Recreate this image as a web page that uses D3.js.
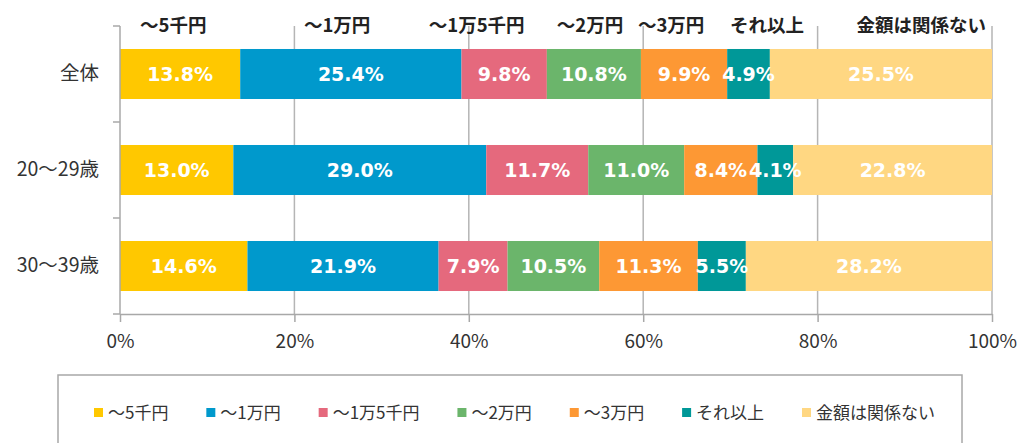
<!DOCTYPE html>
<html>
<head>
<meta charset="utf-8">
<script src="https://cdn.jsdelivr.net/npm/d3@7"></script>
<style>
  body { margin: 0; background: #fff; }
  svg { display: block; }
</style>
</head>
<body>
<div id="chart"></div>
<script>
// 100% stacked bars: budget by age group
var categories = ["全体", "20～29歳", "30～39歳"];
var seriesNames = ["～5千円", "～1万円", "～1万5千円", "～2万円", "～3万円", "それ以上", "金額は関係ない"];
var valuesAll = [13.8, 25.4, 9.8, 10.8, 9.9, 4.9, 25.5];
var values20s = [13.0, 29.0, 11.7, 11.0, 8.4, 4.1, 22.8];
var values30s = [14.6, 21.9, 7.9, 10.5, 11.3, 5.5, 28.2];
// header labels sit above the bars, anchored at these % values
var headerAt = [6.1, 24.9, 40.9, 53.9, 63.2, 74.2, 91.9];
var xTicks = [0, 0.2, 0.4, 0.6, 0.8, 1];
var palette = ["#ffc800", "#0099cc", "#e5697d", "#6bb56b", "#fd9834", "#009898", "#ffd782"];

var width = 1019, height = 443;
var jp = "'Noto Sans CJK JP', 'Noto Sans', sans-serif";

var rows = [valuesAll, values20s, values30s].map(function(v, i) {
  var r = {cat: categories[i]};
  seriesNames.forEach(function(s, j) { r[s] = v[j]; });
  return r;
});

var stack = d3.stack().keys(seriesNames).offset(d3.stackOffsetExpand);
var layers = stack(rows);

var svg = d3.select("#chart").append("svg")
  .attr("width", width)
  .attr("height", height);

var x = d3.scaleLinear().domain([0, 1]).range([120, 992]);
var y = d3.scaleBand().domain(categories).range([26, 314])
  .paddingInner(0.479).paddingOuter(0.2395);
var color = d3.scaleOrdinal().domain(seriesNames).range(palette);

// gridlines
svg.append("g").selectAll("line")
  .data(xTicks.slice(1))
  .enter().append("line")
  .attr("x1", function(d) { return x(d); })
  .attr("x2", function(d) { return x(d); })
  .attr("y1", 26).attr("y2", 314)
  .attr("stroke", "#b5b5b5")
  .attr("stroke-width", 1.5);

// bars
var seg = svg.append("g").selectAll("g")
  .data(layers)
  .enter().append("g")
  .attr("fill", function(d) { return color(d.key); });

seg.selectAll("rect")
  .data(function(d) { return d; })
  .enter().append("rect")
  .attr("x", function(d) { return x(d[0]); })
  .attr("width", function(d) { return x(d[1]) - x(d[0]); })
  .attr("y", function(d) { return y(d.data.cat); })
  .attr("height", y.bandwidth());

// value labels
var lab = svg.append("g");
layers.forEach(function(layer) {
  layer.forEach(function(d) {
    lab.append("text")
      .attr("x", (x(d[0]) + x(d[1])) / 2)
      .attr("y", y(d.data.cat) + y.bandwidth() / 2)
      .attr("dy", "0.36em")
      .attr("text-anchor", "middle")
      .style("font-family", "'DejaVu Sans', sans-serif")
      .style("font-weight", "bold")
      .style("font-size", "19px")
      .style("fill", "#fff")
      .text(d.data[layer.key].toFixed(1) + "%");
  });
});

// left axis with ticks at band boundaries
var yAxis = svg.append("g")
  .attr("transform", "translate(120,0)")
  .call(d3.axisLeft(y).tickSize(0).tickPadding(21));
yAxis.select(".domain").remove();
yAxis.selectAll("text")
  .style("font-family", jp)
  .style("font-size", "19.5px")
  .style("fill", "#333");

var bounds = d3.range(categories.length + 1).map(function(i) { return 26 + i * y.step(); });
svg.append("line")
  .attr("x1", 120).attr("x2", 120)
  .attr("y1", 26).attr("y2", 314)
  .attr("stroke", "#a8a8a8").attr("stroke-width", 1.5);
svg.append("g").selectAll("line")
  .data(bounds)
  .enter().append("line")
  .attr("x1", 113).attr("x2", 120)
  .attr("y1", function(d) { return d; })
  .attr("y2", function(d) { return d; })
  .attr("stroke", "#a8a8a8").attr("stroke-width", 1.5);

// bottom axis
var xAxis = svg.append("g")
  .attr("transform", "translate(0,314)")
  .call(d3.axisBottom(x).tickValues(xTicks).tickFormat(d3.format(".0%"))
    .tickSize(8).tickSizeOuter(0).tickPadding(13));
xAxis.select(".domain").attr("stroke", "#a8a8a8").attr("stroke-width", 1.5);
xAxis.selectAll("line").attr("stroke", "#a8a8a8").attr("stroke-width", 1.5);
xAxis.selectAll("text")
  .style("font-family", jp)
  .style("font-size", "19px")
  .style("fill", "#333");

// header labels
svg.append("g").selectAll("text")
  .data(seriesNames)
  .enter().append("text")
  .attr("x", function(d, i) { return x(headerAt[i] / 100); })
  .attr("y", 32)
  .attr("text-anchor", "middle")
  .style("font-family", jp)
  .style("font-weight", "bold")
  .style("font-size", "18.5px")
  .style("fill", "#222")
  .text(function(d) { return d; });

// legend
svg.append("rect")
  .attr("x", 58).attr("y", 375)
  .attr("width", 904).attr("height", 110)
  .attr("fill", "none")
  .attr("stroke", "#a8a8a8")
  .attr("stroke-width", 1.5);

var leg = svg.append("g");
var items = leg.selectAll("g")
  .data(seriesNames)
  .enter().append("g");
items.append("rect")
  .attr("width", 9).attr("height", 9)
  .attr("y", 408)
  .attr("fill", function(d) { return color(d); });
items.append("text")
  .attr("x", 14)
  .attr("y", 413)
  .attr("dy", "0.36em")
  .style("font-family", jp)
  .style("font-size", "17px")
  .style("fill", "#333")
  .text(function(d) { return d; });

var widths = [];
items.each(function() { widths.push(14 + d3.select(this).select("text").node().getComputedTextLength()); });
var legStart = 94, legEnd = 935;
var gap = (legEnd - legStart - d3.sum(widths)) / (widths.length - 1);
var cx = legStart;
items.each(function(d, i) {
  d3.select(this).attr("transform", "translate(" + cx + ",0)");
  cx += widths[i] + gap;
});
</script>
</body>
</html>
